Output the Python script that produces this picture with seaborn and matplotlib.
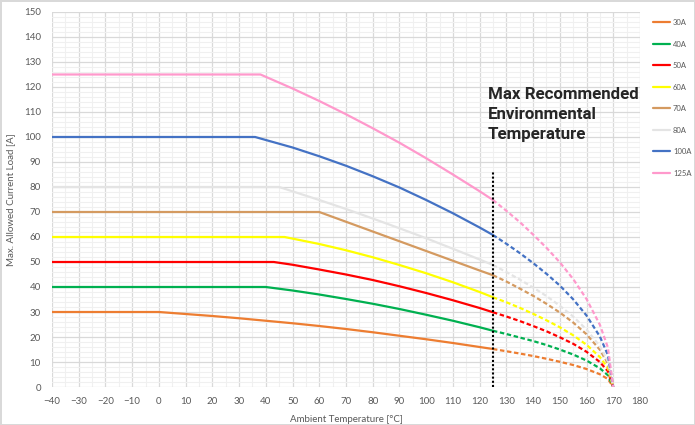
import pandas as pd
import seaborn as sns
import matplotlib.pyplot as plt
from matplotlib.lines import Line2D
from matplotlib.ticker import MultipleLocator

# ratings and colours (Excel-ish palette)
ratings = ['30A', '40A', '50A', '60A', '70A', '80A', '100A', '125A']
colors = ['#ED7D31', '#00B050', '#FF0000', '#FFFF00', '#D49A60', '#E4E4E4', '#4472C4', '#FF99CC']

# solid part: flat rating then derating up to 125 C
temp_30 = [-40, 0, 10, 20, 30, 40, 50, 60, 70, 80, 90, 100, 110, 120, 125]
load_30 = [30, 30, 29.2, 28.4, 27.5, 26.5, 25.5, 24.4, 23.2, 21.9, 20.5, 19.1, 17.6, 16.0, 15.2]
temp_40 = [-40, 40, 50, 60, 70, 80, 90, 100, 110, 120, 125]
load_40 = [40, 40, 38.6, 37.0, 35.2, 33.3, 31.2, 28.9, 26.5, 23.9, 22.5]
temp_50 = [-40, 43, 50, 60, 70, 80, 90, 100, 110, 120, 125]
load_50 = [50, 50, 48.9, 47.0, 45.0, 42.8, 40.3, 37.6, 34.7, 31.6, 29.9]
temp_60 = [-40, 47, 60, 70, 80, 90, 100, 110, 120, 125]
load_60 = [60, 60, 57.2, 54.7, 51.9, 48.8, 45.5, 41.9, 38.0, 35.9]
temp_70 = [-40, 60, 70, 80, 90, 100, 110, 120, 125]
load_70 = [70, 70, 66.1, 62.2, 58.3, 54.4, 50.5, 46.6, 44.7]
temp_80 = [-40, 45, 60, 70, 80, 90, 100, 110, 120, 125]
load_80 = [80, 80, 74.8, 71.2, 67.4, 63.5, 59.5, 55.3, 51.0, 48.8]
temp_100 = [-40, 36, 50, 60, 70, 80, 90, 100, 110, 120, 125]
load_100 = [100, 100, 95.8, 92.3, 88.5, 84.3, 79.8, 74.8, 69.5, 63.8, 60.8]
temp_125 = [-40, 38, 50, 60, 70, 80, 90, 100, 110, 120, 125]
load_125 = [125, 125, 119.4, 114.4, 109.1, 103.5, 97.7, 91.5, 85.0, 78.3, 74.8]

# dashed part: beyond the recommended temperature
dash_temp = [125, 130, 135, 140, 145, 150, 155, 160, 165, 168, 170]
dash_30 = [15.2, 14.3, 13.4, 12.4, 11.3, 10.1, 8.8, 7.2, 5.1, 3.2, 0]
dash_40 = [22.5, 21.2, 19.8, 18.4, 16.8, 15.0, 13.0, 10.6, 7.5, 4.7, 0]
dash_50 = [29.9, 28.2, 26.4, 24.4, 22.3, 19.9, 17.3, 14.1, 10.0, 6.3, 0]
dash_60 = [35.9, 33.9, 31.7, 29.3, 26.7, 23.9, 20.7, 16.9, 12.0, 7.6, 0]
dash_70 = [44.7, 42.2, 39.4, 36.5, 33.3, 29.8, 25.8, 21.1, 14.9, 9.4, 0]
dash_80 = [48.8, 46.0, 43.0, 39.8, 36.4, 32.5, 28.2, 23.0, 16.3, 10.3, 0]
dash_100 = [60.8, 57.3, 53.6, 49.6, 45.3, 40.6, 35.1, 28.6, 20.2, 12.8, 0]
dash_125 = [74.8, 70.5, 66.0, 61.0, 55.7, 49.9, 43.2, 35.2, 24.9, 15.8, 0]

max_temp = 125
marker_top = 86
note = 'Max Recommended\nEnvironmental\nTemperature'

solid = [(temp_30, load_30), (temp_40, load_40), (temp_50, load_50), (temp_60, load_60),
         (temp_70, load_70), (temp_80, load_80), (temp_100, load_100), (temp_125, load_125)]
dashed = [dash_30, dash_40, dash_50, dash_60, dash_70, dash_80, dash_100, dash_125]

rows = []
for r, (t, l), d in zip(ratings, solid, dashed):
    for x, y in zip(t, l):
        rows.append((r, 'solid', x, y))
    for x, y in zip(dash_temp, d):
        rows.append((r, 'dashed', x, y))
df = pd.DataFrame(rows, columns=['rating', 'part', 'temp', 'load'])

sns.set_theme(style='white')
plt.rcParams['font.family'] = ['Lato', 'DejaVu Sans']

fig = plt.figure(figsize=(6.95, 4.25), dpi=100)
fig.patch.set_edgecolor('#D9D9D9')
fig.patch.set_linewidth(1)
ax = fig.add_axes([0.0748, 0.0894, 0.846, 0.8824])

ax.xaxis.set_major_locator(MultipleLocator(10))
ax.xaxis.set_minor_locator(MultipleLocator(5))
ax.yaxis.set_major_locator(MultipleLocator(10))
ax.yaxis.set_minor_locator(MultipleLocator(2))
ax.grid(which='major', color='#D9D9D9', linewidth=0.9)
ax.grid(which='minor', color='#F0F0F0', linewidth=0.8)
ax.set_axisbelow(True)

sns.lineplot(data=df, x='temp', y='load', hue='rating', style='part',
             palette=dict(zip(ratings, colors)),
             dashes={'solid': '', 'dashed': (2, 1.2)},
             style_order=['solid', 'dashed'], hue_order=ratings,
             linewidth=1.6, legend=False, ax=ax, sort=True, estimator=None)

ax.vlines(max_temp, 0, marker_top, colors='black', linestyles=(0, (1, 1)), linewidth=1.5)
ax.text(123.1, 120.0, note, fontsize=12.2, fontweight='bold', va='top', ha='left',
        color='#262626', linespacing=1.42, family=['Roboto', 'DejaVu Sans'])

ax.set_xlim(-40, 180)
ax.set_ylim(0, 150)
for s in ax.spines.values():
    s.set_visible(False)
ax.tick_params(which='both', length=0, labelsize=7, labelcolor='#595959')
ax.tick_params(axis='y', pad=8)
ax.tick_params(axis='x', pad=7)
ax.set_xlabel('Ambient Temperature [°C]', fontsize=7, color='#595959', labelpad=7)
ax.set_ylabel('Max. Allowed Current Load [A]', fontsize=7, color='#595959', labelpad=6)

handles = [Line2D([0], [0], color=c, lw=1.6) for c in colors]
fig.legend(handles, ratings, loc='upper left', bbox_to_anchor=(650 / 695, 1 - 16 / 425),
           frameon=False, fontsize=5.5, labelcolor='#595959', handlelength=2.2,
           handletextpad=0.4, labelspacing=1.9, borderaxespad=0)

fig.savefig('out.png', dpi=100)
